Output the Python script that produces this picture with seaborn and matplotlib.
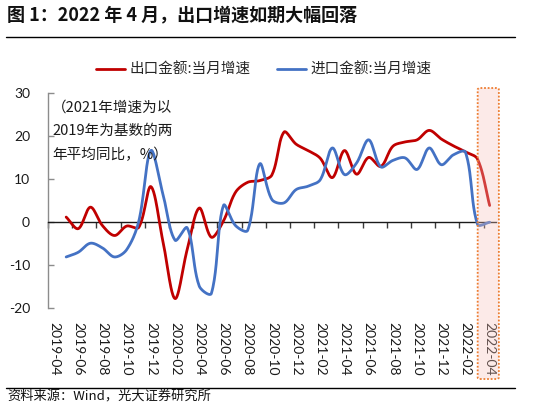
import numpy as np
import pandas as pd
import matplotlib
matplotlib.use("Agg")
import matplotlib.pyplot as plt
import seaborn as sns
from matplotlib.patches import FancyBboxPatch
from matplotlib.lines import Line2D

# ---------------- data ----------------
months = ["2019-04", "2019-05", "2019-06", "2019-07", "2019-08", "2019-09", "2019-10",
          "2019-11", "2019-12", "2020-01", "2020-02", "2020-03", "2020-04", "2020-05",
          "2020-06", "2020-07", "2020-08", "2020-09", "2020-10", "2020-11", "2020-12",
          "2021-01", "2021-02", "2021-03", "2021-04", "2021-05", "2021-06", "2021-07",
          "2021-08", "2021-09", "2021-10", "2021-11", "2021-12", "2022-01", "2022-02",
          "2022-03", "2022-04"]
# values start at 2019-05 (no value plotted for 2019-04)
export_growth = [1.2, -1.5, 3.5, -0.8, -3.1, -0.9, -1.2, 8.3, -4.5, -17.8,
                 -6.4, 3.3, -3.5, 0.3, 7.0, 9.3, 9.7, 11.0, 21.0, 18.2,
                 16.7, 14.9, 10.4, 16.7, 11.2, 15.1, 13.0, 17.7, 18.7, 19.2,
                 21.4, 19.4, 17.8, 16.4, 14.7, 3.9]
import_growth = [-8.1, -7.0, -4.9, -6.0, -8.1, -6.4, 0.2, 16.7, 6.5, -4.2,
                 -1.3, -14.9, -16.6, 3.9, -0.8, -1.9, 13.6, 5.3, 4.5, 7.6,
                 8.4, 9.9, 17.3, 11.1, 13.8, 19.2, 12.9, 14.4, 15.0, 12.3,
                 17.3, 13.4, 15.7, 16.3, -0.5, 0.0]
series_names = ["出口金额:当月增速", "进口金额:当月增速"]
series_colors = ["#C00000", "#4472C4"]
yticks = [-20, -10, 0, 10, 20, 30]

# ---------------- helpers ----------------
def smooth(x, y, sx=12.1, sy=4.3, n=24):
    """Excel-style smoothed rendering through the data points
    (Bezier segments, tangents weighted by chord lengths in screen units)."""
    x = np.asarray(x, float); y = np.asarray(y, float)
    P = np.column_stack([x * sx, y * sy])
    Q = np.vstack([P[0], P, P[-1]])
    out = []
    for i in range(1, len(Q) - 2):
        p0, p1, p2, p3 = Q[i - 1], Q[i], Q[i + 1], Q[i + 2]
        d01 = np.hypot(*(p1 - p0)); d12 = np.hypot(*(p2 - p1)); d23 = np.hypot(*(p3 - p2))
        w1 = d12 / (d01 + d12) if (d01 + d12) > 0 else 0.5
        w2 = d12 / (d12 + d23) if (d12 + d23) > 0 else 0.5
        c1 = p1 + (p2 - p0) * w1 / 3.0
        c2 = p2 - (p3 - p1) * w2 / 3.0
        t = np.linspace(0, 1, n, endpoint=(i == len(Q) - 3))[:, None]
        seg = ((1 - t) ** 3) * p1 + 3 * ((1 - t) ** 2) * t * c1 + 3 * (1 - t) * t ** 2 * c2 + t ** 3 * p2
        out.append(seg)
    out = np.vstack(out)
    return out[:, 0] / sx, out[:, 1] / sy

# ---------------- style ----------------
sns.set_theme(style="white")
plt.rcParams["font.family"] = ["Noto Sans CJK SC", "DejaVu Sans"]
plt.rcParams["axes.unicode_minus"] = False

fig = plt.figure(figsize=(5.5, 4.09), dpi=100)
ax = fig.add_axes([0.0873, 0.2469, 0.8140, 0.5245])

xpos = np.arange(1, len(months))
for vals, name, col in zip([export_growth, import_growth], series_names, series_colors):
    sx, sy = smooth(xpos, vals)
    df = pd.DataFrame({"x": sx, "y": sy})
    sns.lineplot(data=df, x="x", y="y", ax=ax, color=col, lw=2.0, sort=False,
                 estimator=None, zorder=3)

ax.set_xlim(-0.5, len(months) - 0.5)
ax.set_ylim(-20, 30)
ax.set_xlabel("")
ax.set_ylabel("")

# y axis
ax.set_yticks(yticks)
ax.set_yticklabels([str(v) for v in yticks], fontfamily="Lato", fontsize=10, color="#1a1a1a")
ax.tick_params(axis="y", direction="in", length=4, width=1, color="#8C8C8C", pad=13, left=True)
ax.spines["left"].set_color("#8C8C8C")
ax.spines["left"].set_linewidth(1.0)
ax.spines["right"].set_visible(False)
ax.spines["top"].set_visible(False)

# x axis line at zero with tick marks between category pairs
ax.spines["bottom"].set_position(("data", 0))
ax.spines["bottom"].set_color("#1a1a1a")
ax.spines["bottom"].set_linewidth(1.0)
ax.set_xticks(np.arange(-0.5, len(months) - 0.5, 2))
ax.set_xticklabels([])
ax.tick_params(axis="x", direction="out", length=4.5, width=1, color="#3a3a3a", bottom=True)

# labels at the bottom
secax = ax.secondary_xaxis("bottom")
secax.set_xticks(np.arange(0, len(months), 2))
secax.set_xticklabels(months[::2], fontfamily="Lato", fontsize=10, color="#1a1a1a")
secax.tick_params(axis="x", length=0, pad=10, rotation=-90)
secax.spines["bottom"].set_visible(False)

# annotation
ax.text(0.0945, 0.6797, "（2021年增速为以\n2019年为基数的两\n年平均同比，%）",
        transform=fig.transFigure, ha="left", va="center", fontsize=10.5,
        linespacing=1.85, color="#1a1a1a")

# legend
handles = [Line2D([0], [0], color=c, lw=2.0) for c in series_colors]
fig.legend(handles, series_names, loc="center", bbox_to_anchor=(0.479, 0.829), ncol=2,
           frameon=False, fontsize=10.5, handlelength=2.0, handletextpad=0.3,
           columnspacing=1.8)

# highlight box on last month
box = FancyBboxPatch((0.8685, 0.0733), 0.0385, 0.7115,
                     boxstyle="round,pad=0,rounding_size=0.004",
                     transform=fig.transFigure, facecolor=(0.97, 0.76, 0.73, 0.33),
                     edgecolor="#ED7D31", linestyle=(0, (1, 1)), lw=1.3, zorder=10)
fig.add_artist(box)

# title and rules
fig.text(7 / 550, 1 - 15 / 409, "图 1：2022 年 4 月，出口增速如期大幅回落",
         fontsize=13, fontweight="bold", ha="left", va="center", color="#111111")
fig.add_artist(Line2D([6 / 550, 515 / 550], [1 - 37 / 409] * 2, transform=fig.transFigure,
                      color="black", lw=1.0))
fig.add_artist(Line2D([6 / 550, 515 / 550], [1 - 388 / 409] * 2, transform=fig.transFigure,
                      color="black", lw=1.0))
fig.text(7 / 550, 1 - 397 / 409, "资料来源：Wind，光大证券研究所",
         fontsize=9.5, ha="left", va="center", color="#111111")

fig.savefig("out.png", dpi=100)
